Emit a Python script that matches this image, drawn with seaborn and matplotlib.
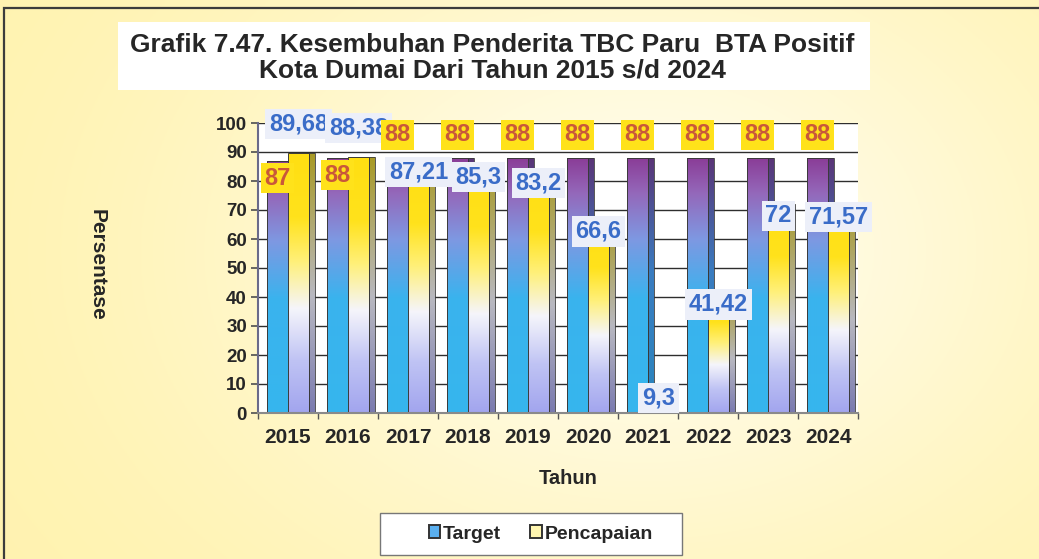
import matplotlib
matplotlib.use('Agg')
import matplotlib.pyplot as plt
import matplotlib.patches as mpatches
from matplotlib.colors import LinearSegmentedColormap
import numpy as np
import pandas as pd
import seaborn as sns

YEARS = ['2015', '2016', '2017', '2018', '2019', '2020', '2021', '2022', '2023', '2024']
TARGET = [87, 88, 88, 88, 88, 88, 88, 88, 88, 88]
PENCAPAIAN = [89.68, 88.38, 87.21, 85.3, 83.2, 66.6, 9.3, 41.42, 72, 71.57]
SERIES = ['Target', 'Pencapaian']
Y_TICKS = list(range(0, 101, 10))

TITLE = 'Grafik 7.47. Kesembuhan Penderita TBC Paru  BTA Positif\nKota Dumai Dari Tahun 2015 s/d 2024'

# gradient fills, bottom -> top
TARGET_CMAP = LinearSegmentedColormap.from_list('target', [
    (0.0, '#36B6EE'), (0.45, '#3AB3EE'), (0.68, '#7E98E2'),
    (0.86, '#9468BA'), (1.0, '#8A3C96')])
TARGET_SIDE = LinearSegmentedColormap.from_list('target_side', [
    (0.0, '#2A86BE'), (0.55, '#3A7CC0'), (1.0, '#5A3476')])
PEN_CMAP = LinearSegmentedColormap.from_list('pen', [
    (0.0, '#A2A5EE'), (0.2, '#BFC3F4'), (0.4, '#F5F5FB'),
    (0.58, '#FFF07A'), (0.75, '#FFE21C'), (1.0, '#FFDF12')])
PEN_SIDE = LinearSegmentedColormap.from_list('pen_side', [
    (0.0, '#7A7AB0'), (0.45, '#B8B8C0'), (1.0, '#A89A24')])


def fmt(v):
    return ('%g' % v).replace('.', ',')


def paint_bar(ax, patch, cmap, side_cmap, z):
    """Fill a bar with a vertical gradient and add a darker side face"""
    x0, y0 = patch.get_x(), patch.get_y()
    w, h = patch.get_width(), patch.get_height()
    grad = np.linspace(0, 1, 256).reshape(-1, 1)

    side = mpatches.Rectangle((x0 + w, y0), w * 0.28, h, facecolor='none',
                              edgecolor='#3a3a3a', linewidth=0.6, zorder=z)
    ax.add_patch(side)
    im = ax.imshow(grad, cmap=side_cmap, extent=[x0 + w, x0 + w * 1.28, y0, y0 + h],
                   origin='lower', aspect='auto', zorder=z - 0.01)
    im.set_clip_path(side)

    patch.set_facecolor('none')
    patch.set_edgecolor('#3a3a3a')
    patch.set_linewidth(0.7)
    patch.set_zorder(z + 0.1)
    im = ax.imshow(grad, cmap=cmap, extent=[x0, x0 + w, y0, y0 + h],
                   origin='lower', aspect='auto', zorder=z + 0.05)
    im.set_clip_path(patch)


def main():
    sns.set_theme(style='white')
    plt.rcParams['font.family'] = ['Liberation Sans', 'DejaVu Sans']

    df = pd.DataFrame({
        'Tahun': YEARS * 2,
        'Seri': [SERIES[0]] * len(YEARS) + [SERIES[1]] * len(YEARS),
        'Persentase': TARGET + PENCAPAIAN,
    })

    fig = plt.figure(figsize=(10.39, 5.59), dpi=100)

    # soft yellow background
    bg = fig.add_axes([0, 0, 1, 1], zorder=-5)
    yy, xx = np.mgrid[0:1:200j, 0:1:360j]
    t = np.exp(-((xx - 0.62) ** 2 / 0.18 + (yy - 0.45) ** 2 / 0.35))
    pale = np.array([1.0, 0.95, 0.68])
    light = np.array([1.0, 0.99, 0.92])
    img = pale * (1 - t[..., None]) + light * t[..., None]
    bg.imshow(img, aspect='auto', extent=[0, 1, 0, 1])
    bg.set_axis_off()

    fig.patches.append(mpatches.Rectangle((4 / 1039, -0.05), 1.2, 1.05 - 8 / 559,
                                          transform=fig.transFigure, fill=False,
                                          edgecolor='#3c3c3c', linewidth=1.6, zorder=2))

    # title box
    fig.patches.append(mpatches.Rectangle((118 / 1039, 1 - 90 / 559), 752 / 1039, 68 / 559,
                                          transform=fig.transFigure, facecolor='white',
                                          edgecolor='none', zorder=1))
    fig.text(0.474, 1 - 58 / 559, TITLE, ha='center', va='center', fontsize=19,
             fontweight='bold', color='#262626', linespacing=1.08, zorder=3)

    ax = fig.add_axes([258 / 1039, 1 - 413 / 559, 600 / 1039, 290 / 559])
    sns.barplot(data=df, x='Tahun', y='Persentase', hue='Seri', hue_order=SERIES,
                palette=['#36B6EE', '#FFE21C'], width=0.7, saturation=1,
                legend=False, ax=ax)

    for patch in ax.containers[0]:
        paint_bar(ax, patch, TARGET_CMAP, TARGET_SIDE, 1.0)
    for patch in ax.containers[1]:
        paint_bar(ax, patch, PEN_CMAP, PEN_SIDE, 1.5)

    ax.set_xlim(-0.5, len(YEARS) - 0.5)
    ax.set_ylim(0, 100)
    ax.set_yticks(Y_TICKS)
    ax.set_facecolor('white')
    ax.set_axisbelow(True)
    ax.yaxis.grid(True, color='#2e2e2e', linewidth=1.0)
    ax.xaxis.grid(False)
    for s in ['top', 'right']:
        ax.spines[s].set_visible(False)
    ax.spines['left'].set_color('#6a6a8a')
    ax.spines['left'].set_linewidth(1.5)
    ax.spines['bottom'].set_color('#8a8a8a')
    ax.spines['bottom'].set_linewidth(1.5)

    ax.set_xticks(np.arange(len(YEARS)))
    ax.set_xticklabels(YEARS)
    ax.set_xticks(np.arange(len(YEARS) + 1) - 0.5, minor=True)
    ax.tick_params(axis='x', which='major', length=0, pad=11, labelsize=15)
    ax.tick_params(axis='x', which='minor', length=4, color='#555', direction='out', bottom=True)
    ax.tick_params(axis='y', length=5, color='#555', direction='out', left=True,
                   labelsize=13.5, pad=3)
    for lbl in ax.get_xticklabels() + ax.get_yticklabels():
        lbl.set_fontweight('bold')
        lbl.set_color('#262626')
    ax.set_xlabel('')
    ax.set_ylabel('')

    # value labels
    t_bars = ax.containers[0]
    p_bars = ax.containers[1]
    for i in range(len(YEARS)):
        tb, pb = t_bars[i], p_bars[i]
        tv, pv = TARGET[i], PENCAPAIAN[i]
        if pv > tv:
            ty, py = tv - 6, pv + 10
        else:
            ty, py = tv + 8, pv - 4
        ax.text(tb.get_x() + tb.get_width() / 2, ty, fmt(tv), ha='center', va='center',
                fontsize=17, fontweight='bold', color='#C9583A', zorder=5, clip_on=False,
                bbox=dict(boxstyle='square,pad=0.15', facecolor='#FFE21A', edgecolor='none'))
        ax.text(pb.get_x() + pb.get_width() / 2, py, fmt(pv), ha='center', va='center',
                fontsize=17, fontweight='bold', color='#3A6CC8', zorder=5, clip_on=False,
                bbox=dict(boxstyle='square,pad=0.15', facecolor='#ECEFF9', edgecolor='none'))

    fig.text(97 / 1039, 1 - 265 / 559, 'Persentase', rotation=270, ha='center', va='center',
             fontsize=15, fontweight='bold', color='#262626')
    fig.text(568 / 1039, 1 - 478 / 559, 'Tahun', ha='center', va='center',
             fontsize=14.5, fontweight='bold', color='#262626')

    # legend box drawn separately, entries without frame
    fig.patches.append(mpatches.Rectangle((380 / 1039, 1 - 555 / 559), 302 / 1039, 42 / 559,
                                          transform=fig.transFigure, facecolor='white',
                                          edgecolor='#777', linewidth=1.0, zorder=1))
    handles = [mpatches.Patch(facecolor='#5AB0F0', edgecolor='#333', linewidth=1.4),
               mpatches.Patch(facecolor='#FFF6B0', edgecolor='#333', linewidth=1.4)]
    leg = fig.legend(handles, SERIES, loc='center', bbox_to_anchor=(541 / 1039, 1 - 534 / 559),
                     ncol=2, frameon=False,
                     handlelength=0.6, handleheight=0.6, handletextpad=0.15,
                     columnspacing=1.5, borderpad=0.3,
                     prop={'size': 14, 'weight': 'bold'})
    leg.set_zorder(3)
    for txt in leg.get_texts():
        txt.set_color('#262626')

    fig.savefig('out.png', dpi=100)


if __name__ == '__main__':
    main()
